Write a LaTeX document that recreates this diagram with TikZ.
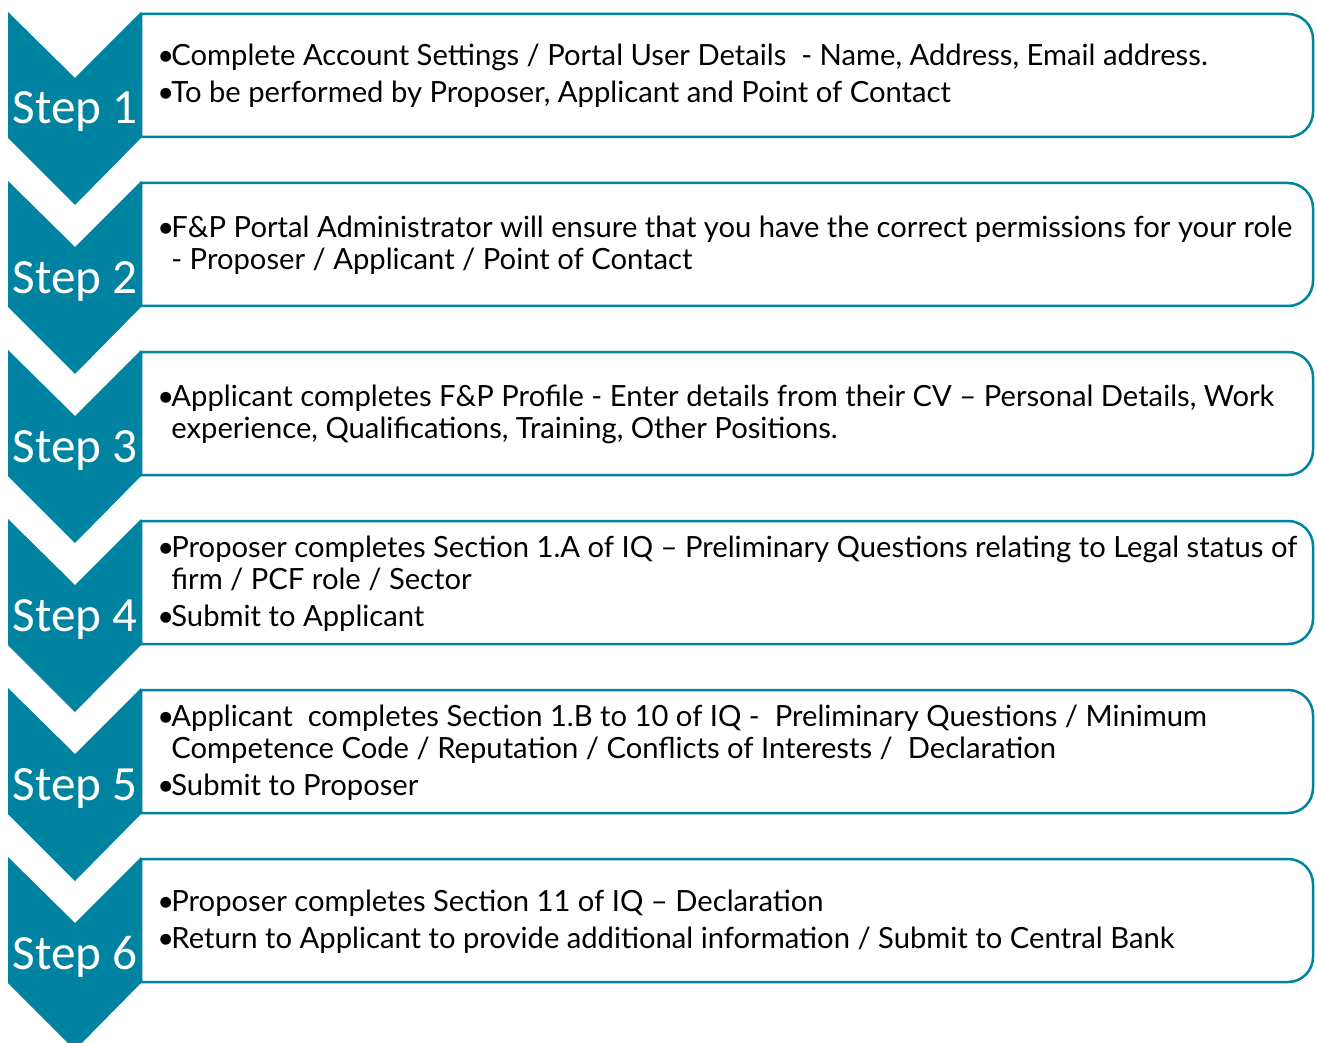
\documentclass[tikz,border=0pt]{standalone}
\usepackage{fontspec}
\setmainfont{Lato}
\newfontfamily\stepfont{Carlito}
\usetikzlibrary{positioning}
\definecolor{stepteal}{HTML}{0083A0}
\newcommand{\bul}{\makebox[7pt][l]{•}}
\newcommand{\ind}{\hspace*{7pt}}

\tikzset{
  chevron/.style={fill=stepteal},
  stepbox/.style={draw=stepteal, line width=1.25pt, fill=white},
  steplabel/.style={text=white, anchor=base, inner sep=0pt, font=\stepfont\fontsize{24.6}{24.6}\selectfont},
  steptext/.style={anchor=west, align=left, inner sep=0pt, font=\fontsize{14.6}{16}\selectfont}
}

\begin{document}
\begin{tikzpicture}[x=0.5pt,y=-0.5pt]
    \useasboundingbox (0,0) rectangle (1317,1043);

    \foreach \n in {1,...,6} {
        \pgfmathsetmacro{\t}{12+(\n-1)*169}
        \draw[stepbox] (141,\t+2) -- (1288,\t+2) arc[start angle=90, end angle=0, radius=12.5pt]
            -- (1313,\t+100) arc[start angle=0, end angle=-90, radius=12.5pt] -- (141,\t+125) -- cycle;
        \fill[chevron] (8,\t) -- (75,\t+66) -- (141,\t) -- (141,\t+126) -- (75,\t+193) -- (8,\t+126) -- cycle;
        \node[steplabel] (step\n) at (75,\t+112) {Step \n};
    }

    \node[steptext] (text1) at (157,76)
        {\bul Complete Account Settings / Portal User Details\ \ - Name, Address, Email address.\\[2.5pt]
         \bul To be performed by Proposer, Applicant and Point of Contact};
    \node[steptext] (text2) at (157,245)
        {\bul F\&P Portal Administrator will ensure that you have the correct permissions for your role\\
         \ind - Proposer / Applicant / Point of Contact};
    \node[steptext] (text3) at (157,414)
        {\bul Applicant completes F\&P Profile - Enter details from their CV – Personal Details, Work\\
         \ind experience, Qualifications, Training, Other Positions.};
    \node[steptext] (text4) at (157,584)
        {\bul Proposer completes Section 1.A of IQ – Preliminary Questions relating to Legal status of\\
         \ind firm / PCF role / Sector\\[2.5pt]
         \bul Submit to Applicant};
    \node[steptext] (text5) at (157,753)
        {\bul Applicant\ \ completes Section 1.B to 10 of IQ -\ \ Preliminary Questions / Minimum\\
         \ind Competence Code / Reputation / Conflicts of Interests /\ \ Declaration\\[2.5pt]
         \bul Submit to Proposer};
    \node[steptext] (text6) at (157,922)
        {\bul Proposer completes Section 11 of IQ – Declaration\\[2.5pt]
         \bul Return to Applicant to provide additional information / Submit to Central Bank};
\end{tikzpicture}
\end{document}
